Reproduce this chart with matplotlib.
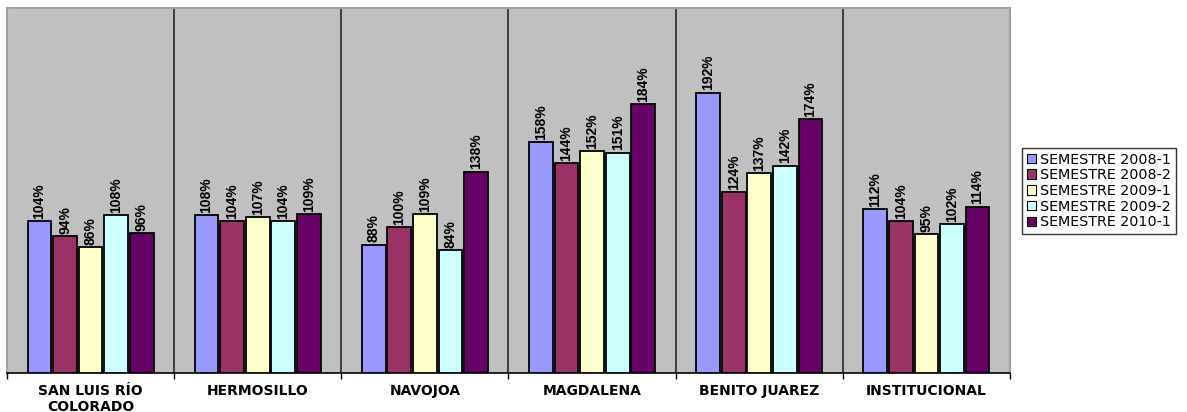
import matplotlib

matplotlib.use("Agg")
import matplotlib.pyplot as plt  # noqa: E402
import numpy as np  # noqa: E402
from matplotlib.patches import Patch  # noqa: E402

plt.rcParams["font.family"] = ["Liberation Sans", "DejaVu Sans"]

# datos
campus = ["SAN LUIS RÍO\nCOLORADO", "HERMOSILLO", "NAVOJOA", "MAGDALENA",
          "BENITO JUAREZ", "INSTITUCIONAL"]
semestres = ["SEMESTRE 2008-1", "SEMESTRE 2008-2", "SEMESTRE 2009-1",
             "SEMESTRE 2009-2", "SEMESTRE 2010-1"]
s2008_1 = [104, 108, 88, 158, 192, 112]
s2008_2 = [94, 104, 100, 144, 124, 104]
s2009_1 = [86, 107, 109, 152, 137, 95]
s2009_2 = [108, 104, 84, 151, 142, 102]
s2010_1 = [96, 109, 138, 184, 174, 114]
colores = ["#9999FF", "#993366", "#FFFFCC", "#CCFFFF", "#660066"]

series = [s2008_1, s2008_2, s2009_1, s2009_2, s2010_1]

fig = plt.figure(figsize=(11.87, 4.12), dpi=100)
ax = fig.add_axes([7 / 1187, 39 / 412, 1003 / 1187, 365 / 412])
ax.set_facecolor("#C0C0C0")

x = np.arange(len(campus))
paso = 0.153
w = 0.142
for k, (vals, col) in enumerate(zip(series, colores)):
    pos = x + (k - 2) * paso
    ax.bar(pos, vals, width=w, color=col, edgecolor="black", linewidth=1.3,
           label=semestres[k], zorder=3)
    for p, v in zip(pos, vals):
        ax.text(p, v + 1.5, f"{v}%", rotation=90, ha="center", va="bottom",
                fontsize=10, fontweight="bold", family="Liberation Sans")

ax.set_xlim(-0.5, len(campus) - 0.5)
ax.set_ylim(0, 250)
for b in np.arange(0.5, len(campus) - 0.5, 1):
    ax.axvline(b, color="#333333", linewidth=1.3, zorder=2)

ax.set_yticks([])
ax.set_xticks(x)
ax.set_xticklabels(campus, fontsize=10, fontweight="bold", linespacing=1.2,
                   family=["DejaVu Sans"])
ax.set_xticks(np.arange(-0.5, len(campus)), minor=True)
ax.tick_params(axis="x", which="major", length=0, pad=8)
ax.tick_params(axis="x", which="minor", length=4, width=1, direction="out")

for s in ["top", "left", "right"]:
    ax.spines[s].set_color("#A0A0A0")
    ax.spines[s].set_linewidth(1.5)
ax.spines["bottom"].set_color("black")
ax.spines["bottom"].set_linewidth(1.2)

handles = [Patch(facecolor=c, edgecolor="black", linewidth=0.8, label=l)
           for c, l in zip(colores, semestres)]
leg = fig.legend(handles=handles, loc="upper left",
                 bbox_to_anchor=(1022 / 1187, 1 - 148 / 412),
                 prop={"family": "DejaVu Sans", "size": 10.3},
                 frameon=True, fancybox=False,
                 handlelength=0.65, handleheight=0.65, handletextpad=0.3,
                 labelspacing=0.12, borderpad=0.32, borderaxespad=0)
leg.get_frame().set_edgecolor("black")
leg.get_frame().set_linewidth(1)

fig.savefig("out.png", dpi=100)
